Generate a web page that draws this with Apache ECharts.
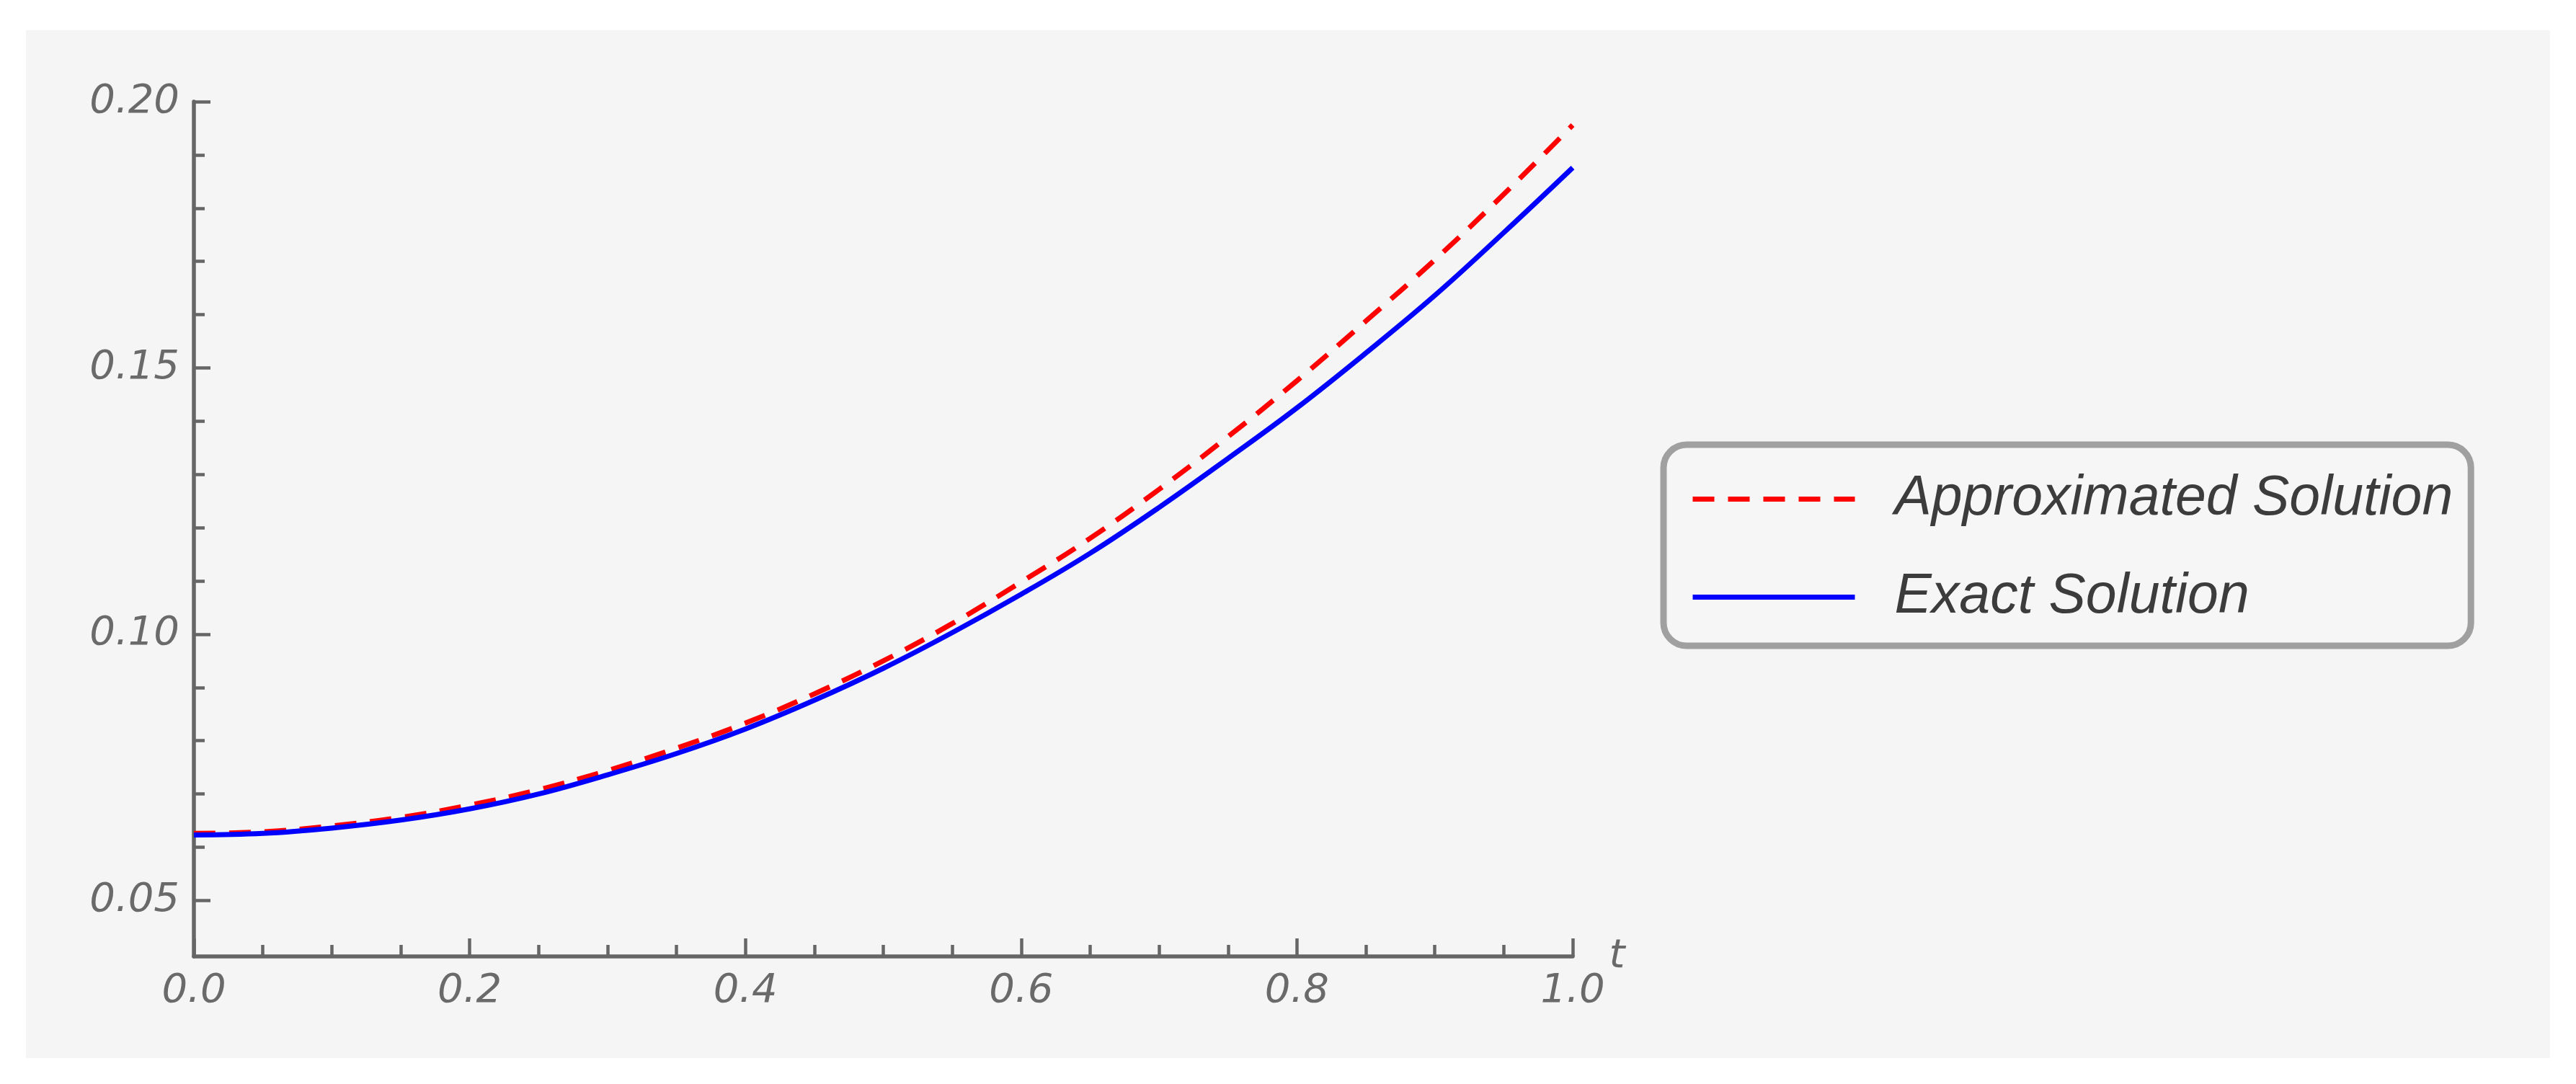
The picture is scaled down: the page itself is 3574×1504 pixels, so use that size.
<!DOCTYPE html>
<html>
<head>
<meta charset="utf-8">
<script src="https://cdn.jsdelivr.net/npm/echarts@6/dist/echarts.min.js"></script>
<style>
html,body{margin:0;padding:0;background:#ffffff;width:3574px;height:1504px;overflow:hidden}
#panel{position:absolute;left:36px;top:42px;width:3502px;height:1426px;background:#f5f5f5}
#chart{position:absolute;left:0;top:0;width:3574px;height:1504px}
</style>
</head>
<body>
<div id="panel"></div>
<div id="chart"></div>
<script>
// ---- data ----
const tValues = [0, 0.05, 0.1, 0.15, 0.2, 0.25, 0.3, 0.35, 0.4, 0.45, 0.5,
                 0.55, 0.6, 0.65, 0.7, 0.75, 0.8, 0.85, 0.9, 0.95, 1.0];
const approxValues = [0.0626, 0.0629, 0.0640, 0.0656, 0.0679, 0.0708, 0.0744, 0.0786, 0.0833, 0.0888, 0.0950,
                      0.1020, 0.1098, 0.1180, 0.1272, 0.1371, 0.1476, 0.1588, 0.1703, 0.1826, 0.1956];
const exactValues  = [0.0623, 0.0626, 0.0636, 0.0651, 0.0672, 0.0700, 0.0736, 0.0776, 0.0822, 0.0876, 0.0936,
                      0.1003, 0.1075, 0.1152, 0.1238, 0.1330, 0.1425, 0.1528, 0.1636, 0.1754, 0.1876];
const seriesNames = ['Approximated Solution', 'Exact Solution'];
const xAxisName = 't';
const xRange = [0, 1];
const xStep = 0.2;
const yRange = [0.0395, 0.20];
const yMajorTicks = [0.05, 0.10, 0.15, 0.20];
const yMinorTicks = [0.06, 0.07, 0.08, 0.09, 0.11, 0.12, 0.13, 0.14, 0.16, 0.17, 0.18, 0.19];

const toPairs = (xs, ys) => xs.map((x, i) => [x, ys[i]]);

const axisColor = '#666666';
const tickFont = { fontFamily: 'DejaVu Sans', fontStyle: 'italic', fontSize: 56, color: '#6a6a6a' };

const chart = echarts.init(document.getElementById('chart'), null, { renderer: 'canvas' });
chart.setOption({
  backgroundColor: 'transparent',
  animation: false,
  grid: { left: 269, right: 1392, top: 141, bottom: 177, outerBoundsMode: 'none', containLabel: false },
  xAxis: {
    type: 'value', min: xRange[0], max: xRange[1], interval: xStep,
    name: xAxisName, nameLocation: 'end', nameGap: 42,
    nameTextStyle: Object.assign({}, tickFont, { verticalAlign: 'middle', align: 'left' }),
    axisLine: { show: true, onZero: false, lineStyle: { color: axisColor, width: 5.5 } },
    axisTick: { show: true, inside: true, length: 25, lineStyle: { color: axisColor, width: 4.5 } },
    minorTick: { show: true, splitNumber: 4, length: 16, lineStyle: { color: axisColor, width: 4.5 } },
    axisLabel: Object.assign({ margin: 20, formatter: v => v.toFixed(1) }, tickFont),
    splitLine: { show: false },
    minorSplitLine: { show: false }
  },
  yAxis: [
    {
      type: 'value', min: yRange[0], max: yRange[1], position: 'left',
      axisLine: { show: true, onZero: false, lineStyle: { color: axisColor, width: 5.5 } },
      axisTick: { show: true, inside: true, length: 23, customValues: yMajorTicks, lineStyle: { color: axisColor, width: 4.5 } },
      axisLabel: Object.assign({ margin: 20, customValues: yMajorTicks, formatter: v => v.toFixed(2) }, tickFont),
      splitLine: { show: false }
    },
    {
      type: 'value', min: yRange[0], max: yRange[1], position: 'left', offset: 0,
      axisLine: { show: false },
      axisTick: { show: true, inside: true, length: 15, customValues: yMinorTicks, lineStyle: { color: axisColor, width: 4.5 } },
      axisLabel: { show: false },
      splitLine: { show: false }
    }
  ],
  legend: {
    orient: 'vertical', left: 2308, top: 617,
    padding: [37, 25, 29, 37],
    itemWidth: 225, itemHeight: 20, itemGap: 59,
    backgroundColor: '#f6f6f6', borderColor: '#a0a0a0', borderWidth: 9, borderRadius: 32,
    itemStyle: { opacity: 0 },
    lineStyle: { width: 7 },
    textStyle: { fontFamily: 'Liberation Sans', fontStyle: 'italic', fontSize: 77, color: '#3c3c3c', padding: [0, 0, 0, 50] },
    data: seriesNames
  },
  series: [
    {
      name: seriesNames[0], type: 'line', yAxisIndex: 0, smooth: 0.4, symbol: 'none',
      lineStyle: { color: '#ff0000', width: 7, type: [30, 19] },
      itemStyle: { color: '#ff0000' },
      data: toPairs(tValues, approxValues)
    },
    {
      name: seriesNames[1], type: 'line', yAxisIndex: 0, smooth: 0.4, symbol: 'none',
      lineStyle: { color: '#0000ff', width: 7, type: 'solid' },
      itemStyle: { color: '#0000ff' },
      data: toPairs(tValues, exactValues)
    }
  ]
});
</script>
</body>
</html>
